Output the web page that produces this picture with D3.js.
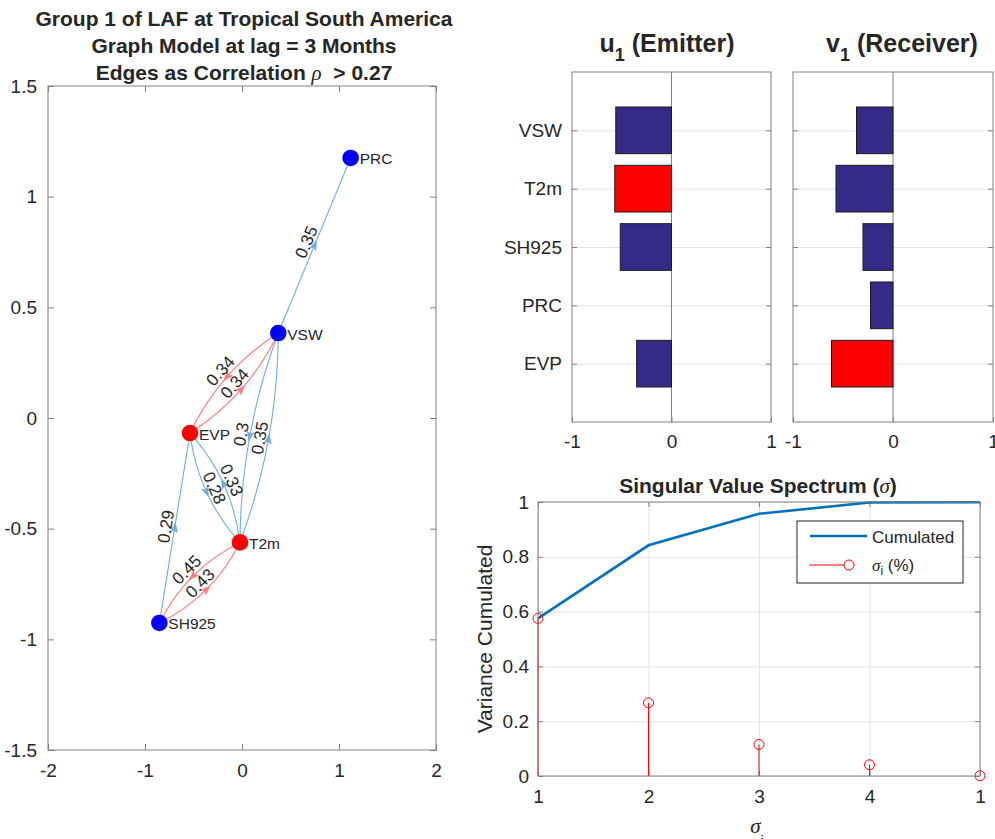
<!DOCTYPE html>
<html>
<head>
<meta charset="utf-8">
<script src="https://cdn.jsdelivr.net/npm/d3@7"></script>
<style>
body { margin: 0; background: #fff; }
text { font-family: "Liberation Sans", Arial, Helvetica, sans-serif; fill: #262626; }
</style>
</head>
<body>
<svg width="995" height="839"></svg>
<script>
// graph model nodes (layout coordinates)
var nodeNames = ["PRC", "VSW", "EVP", "T2m", "SH925"];
var nodeX = [1.12, 0.374, -0.536, -0.021, -0.852];
var nodeY = [1.175, 0.384, -0.068, -0.562, -0.926];

// directed edges, weight = correlation
var edgeSource = ["VSW", "VSW", "EVP", "VSW", "T2m", "EVP", "T2m", "SH925", "T2m", "SH925"];
var edgeTarget = ["PRC", "EVP", "VSW", "T2m", "VSW", "T2m", "EVP", "EVP", "SH925", "T2m"];
var edgeWeight = [0.35, 0.34, 0.34, 0.3, 0.35, 0.28, 0.33, 0.29, 0.45, 0.43];
var edgeRed = [0, 1, 1, 0, 0, 0, 0, 0, 1, 1];

// first singular vectors
var barCategories = ["EVP", "PRC", "SH925", "T2m", "VSW"];
var u1 = [-0.35, 0, -0.515, -0.57, -0.56];
var v1 = [-0.615, -0.225, -0.30, -0.57, -0.365];

// singular value spectrum
var sigmaIndex = [1, 2, 3, 4, 5];
var sigmaTickLabels = ["1", "2", "3", "4", "1"];
var sigmaShare = [0.575, 0.267, 0.115, 0.041, 0.001];
var cumulated = [0.575, 0.842, 0.957, 0.998, 0.999];

var svg = d3.select("svg");
var AX = "#808080", GRID = "#e3e3e3", RED = "#ff0000", BLUE = "#0000ff";
var num = function (d) { return String(d); };

function styleAxis(sel, size) {
    sel.attr("font-size", size).attr("font-family", null);
    sel.selectAll("text").attr("fill", "#262626");
    sel.selectAll("line").attr("stroke", AX);
    sel.select(".domain").remove();
}
function styleGrid(sel) {
    sel.selectAll("text").remove();
    sel.selectAll("line").attr("stroke", GRID);
    sel.select(".domain").remove();
}
function box(g, x0, y0, x1, y1) {
    g.append("rect").attr("x", x0).attr("y", y0).attr("width", x1 - x0).attr("height", y1 - y0)
        .attr("fill", "none").attr("stroke", AX);
}

// ---------------- graph panel ----------------
var gx = d3.scaleLinear().domain([-2, 2]).range([48, 436]);
var gy = d3.scaleLinear().domain([-1.5, 1.5]).range([750, 86]);
var gL = svg.append("g");
var gyTicks = [-1.5, -1, -0.5, 0, 0.5, 1, 1.5];

gL.append("g").attr("transform", "translate(0,750)")
    .call(d3.axisBottom(gx).ticks(4).tickSizeInner(-6).tickSizeOuter(0).tickPadding(14).tickFormat(num))
    .call(styleAxis, 19);
gL.append("g").attr("transform", "translate(0,86)")
    .call(d3.axisTop(gx).ticks(4).tickSizeInner(-6).tickSizeOuter(0).tickFormat(""))
    .call(styleAxis, 19);
gL.append("g").attr("transform", "translate(48,0)")
    .call(d3.axisLeft(gy).tickValues(gyTicks).tickSizeInner(-6).tickSizeOuter(0).tickPadding(11).tickFormat(num))
    .call(styleAxis, 19);
gL.append("g").attr("transform", "translate(436,0)")
    .call(d3.axisRight(gy).tickValues(gyTicks).tickSizeInner(-6).tickSizeOuter(0).tickFormat(""))
    .call(styleAxis, 19);
box(gL, 48, 86, 436, 750);

var titleL = ["Group 1 of LAF at Tropical South America", "Graph Model at lag = 3 Months"];
titleL.forEach(function (t, i) {
    svg.append("text").attr("x", 244).attr("y", 26 + i * 27).attr("text-anchor", "middle")
        .attr("font-size", 21).attr("font-weight", "bold").text(t);
});
var t3 = svg.append("text").attr("x", 244).attr("y", 80).attr("text-anchor", "middle")
    .attr("font-size", 21).attr("font-weight", "bold").style("white-space", "pre");
t3.append("tspan").text("Edges as Correlation ");
t3.append("tspan").attr("font-family", "Liberation Serif").attr("font-style", "italic")
    .attr("font-weight", "normal").text("ρ");
t3.append("tspan").text("  > 0.27");

function nodePos(name) {
    var i = nodeNames.indexOf(name);
    return [gx(nodeX[i]), gy(nodeY[i])];
}

var edgeG = gL.append("g");
edgeWeight.forEach(function (w, i) {
    var s = nodePos(edgeSource[i]), t = nodePos(edgeTarget[i]);
    var dx = t[0] - s[0], dy = t[1] - s[1], len = Math.sqrt(dx * dx + dy * dy);
    var ux = dx / len, uy = dy / len, px = -uy, py = ux;
    var both = edgeWeight.some(function (_, j) {
        return edgeSource[j] === edgeTarget[i] && edgeTarget[j] === edgeSource[i];
    });
    var bulge = both ? 9.5 : 0;
    var mx = (s[0] + t[0]) / 2 + px * bulge, my = (s[1] + t[1]) / 2 + py * bulge;
    var cx = (s[0] + t[0]) / 2 + px * bulge * 2, cy = (s[1] + t[1]) / 2 + py * bulge * 2;
    var col = edgeRed[i] ? "#ff7c7c" : "#6fade0";
    var p = d3.path();
    p.moveTo(s[0], s[1]);
    p.quadraticCurveTo(cx, cy, t[0], t[1]);
    edgeG.append("path").attr("d", p.toString()).attr("fill", "none").attr("stroke", col).attr("stroke-width", 1.1);

    var ang = Math.atan2(dy, dx) * 180 / Math.PI;
    edgeG.append("path").attr("d", "M6,0 L-5,-4 L-2.5,0 L-5,4 Z").attr("fill", col)
        .attr("transform", "translate(" + mx + "," + my + ") rotate(" + ang + ")");

    var a = ang;
    if (a > 90) a -= 180;
    if (a < -90) a += 180;
    var ar = a * Math.PI / 180;
    var lx = mx + Math.sin(ar) * 3, ly = my - Math.cos(ar) * 3;
    edgeG.append("text").attr("font-size", 17).attr("text-anchor", "middle")
        .attr("transform", "translate(" + lx + "," + ly + ") rotate(" + a + ")")
        .text(num(w));
});

// red nodes = strongest emitter / receiver
function argmaxAbs(arr) {
    return arr.reduce(function (b, v, i) { return Math.abs(v) > Math.abs(arr[b]) ? i : b; }, 0);
}
var redNodes = [barCategories[argmaxAbs(u1)], barCategories[argmaxAbs(v1)]];

gL.selectAll(".node").data(nodeNames).enter().append("circle")
    .attr("cx", function (d, i) { return gx(nodeX[i]); })
    .attr("cy", function (d, i) { return gy(nodeY[i]); })
    .attr("r", 8.3)
    .attr("fill", function (d) { return redNodes.indexOf(d) >= 0 ? RED : BLUE; });
gL.selectAll(".nlabel").data(nodeNames).enter().append("text")
    .attr("x", function (d, i) { return gx(nodeX[i]) + 9; })
    .attr("y", function (d, i) { return gy(nodeY[i]) + 1; })
    .attr("dominant-baseline", "central")
    .attr("font-size", 15.5).attr("fill", "#262626")
    .text(function (d) { return d; });

// ---------------- bar panels ----------------
var by = d3.scaleLinear().domain([0, 6]).range([422, 72]);
function barPanel(x0, x1, vals, withLabels) {
    var bx = d3.scaleLinear().domain([-1, 1]).range([x0, x1]);
    var g = svg.append("g");
    var catPos = barCategories.map(function (d, i) { return i + 1; });
    g.append("g").attr("transform", "translate(" + x0 + ",0)")
        .call(d3.axisLeft(by).tickValues(catPos).tickSize(-(x1 - x0)).tickFormat(""))
        .call(styleGrid);
    g.append("line").attr("x1", bx(0)).attr("x2", bx(0)).attr("y1", 72).attr("y2", 422).attr("stroke", AX);
    var mi = argmaxAbs(vals);
    g.selectAll(".bar").data(vals).enter().append("rect")
        .attr("x", function (d) { return bx(Math.min(0, d)); })
        .attr("y", function (d, i) { return by(i + 1 + 0.4); })
        .attr("width", function (d) { return Math.abs(bx(d) - bx(0)); })
        .attr("height", by(0) - by(0.8))
        .attr("fill", function (d, i) { return i === mi ? RED : "#352a87"; })
        .attr("stroke", "#1a1a1a").attr("stroke-width", 1)
        .style("display", function (d) { return d === 0 ? "none" : null; });
    g.append("g").attr("transform", "translate(0,422)")
        .call(d3.axisBottom(bx).tickValues([-1, 0, 1]).tickSizeInner(-5).tickSizeOuter(0).tickPadding(13).tickFormat(num))
        .call(styleAxis, 19);
    g.append("g").attr("transform", "translate(" + x0 + ",0)")
        .call(d3.axisLeft(by).tickValues(catPos).tickSizeInner(-5).tickSizeOuter(0).tickPadding(10)
            .tickFormat(function (d) { return withLabels ? barCategories[d - 1] : ""; }))
        .call(styleAxis, 19);
    g.append("g").attr("transform", "translate(" + x1 + ",0)")
        .call(d3.axisRight(by).tickValues(catPos).tickSizeInner(-5).tickSizeOuter(0).tickFormat(""))
        .call(styleAxis, 19);
    box(g, x0, 72, x1, 422);
}
barPanel(572, 771, u1, true);
barPanel(793, 993, v1, false);

function subTitle(x, y, main, sub, rest) {
    var t = svg.append("text").attr("x", x).attr("y", y).attr("text-anchor", "middle")
        .attr("font-weight", "bold").attr("font-size", 25).style("white-space", "pre");
    t.append("tspan").text(main);
    t.append("tspan").attr("dy", 9).attr("font-size", 18).text(sub);
    t.append("tspan").attr("dy", -9).text(rest);
}
subTitle(667, 52, "u", "1", " (Emitter)");
subTitle(902, 52, "v", "1", " (Receiver)");

// ---------------- singular value spectrum ----------------
var sx = d3.scaleLinear().domain([1, 5]).range([538, 980]);
var sy = d3.scaleLinear().domain([0, 1]).range([776, 502]);
var gS = svg.append("g");
var yt = [0, 0.2, 0.4, 0.6, 0.8, 1];

gS.append("g").attr("transform", "translate(0,776)")
    .call(d3.axisBottom(sx).tickValues(sigmaIndex).tickSize(-274).tickFormat(""))
    .call(styleGrid);
gS.append("g").attr("transform", "translate(538,0)")
    .call(d3.axisLeft(sy).tickValues(yt).tickSize(-442).tickFormat(""))
    .call(styleGrid);

gS.append("g").attr("transform", "translate(0,776)")
    .call(d3.axisBottom(sx).tickValues(sigmaIndex).tickSizeInner(-5).tickSizeOuter(0).tickPadding(14)
        .tickFormat(function (d, i) { return sigmaTickLabels[i]; }))
    .call(styleAxis, 19);
gS.append("g").attr("transform", "translate(0,502)")
    .call(d3.axisTop(sx).tickValues(sigmaIndex).tickSizeInner(-5).tickSizeOuter(0).tickFormat(""))
    .call(styleAxis, 19);
gS.append("g").attr("transform", "translate(538,0)")
    .call(d3.axisLeft(sy).tickValues(yt).tickSizeInner(-5).tickSizeOuter(0).tickPadding(9).tickFormat(num))
    .call(styleAxis, 19);
gS.append("g").attr("transform", "translate(980,0)")
    .call(d3.axisRight(sy).tickValues(yt).tickSizeInner(-5).tickSizeOuter(0).tickFormat(""))
    .call(styleAxis, 19);

gS.selectAll(".stem").data(sigmaShare).enter().append("line")
    .attr("x1", function (d, i) { return sx(sigmaIndex[i]); })
    .attr("x2", function (d, i) { return sx(sigmaIndex[i]); })
    .attr("y1", sy(0)).attr("y2", function (d) { return sy(d); })
    .attr("stroke", RED).attr("stroke-width", 1);

gS.append("path").datum(cumulated)
    .attr("d", d3.line().x(function (d, i) { return sx(sigmaIndex[i]); }).y(function (d) { return sy(d); }))
    .attr("fill", "none").attr("stroke", "#0072bd").attr("stroke-width", 2.6);

gS.selectAll(".mark").data(sigmaShare).enter().append("circle")
    .attr("cx", function (d, i) { return sx(sigmaIndex[i]); })
    .attr("cy", function (d) { return sy(d); })
    .attr("r", 5).attr("fill", "none").attr("stroke", RED).attr("stroke-width", 1);

box(gS, 538, 502, 980, 776);

var st = svg.append("text").attr("x", 758).attr("y", 493).attr("text-anchor", "middle")
    .attr("font-size", 21).attr("font-weight", "bold");
st.append("tspan").text("Singular Value Spectrum (");
st.append("tspan").attr("font-family", "Liberation Serif").attr("font-style", "italic").attr("font-weight", "normal").text("σ");
st.append("tspan").text(")");

svg.append("text").attr("transform", "translate(492,639) rotate(-90)").attr("text-anchor", "middle")
    .attr("font-size", 21).text("Variance Cumulated");

var xl = svg.append("text").attr("x", 757).attr("y", 833).attr("text-anchor", "middle").attr("font-size", 21);
xl.append("tspan").attr("font-family", "Liberation Serif").attr("font-style", "italic").text("σ");
xl.append("tspan").attr("dy", 13).attr("font-size", 15).text("i");

// legend
var lg = gS.append("g");
lg.append("rect").attr("x", 797).attr("y", 521).attr("width", 166).attr("height", 62)
    .attr("fill", "#fff").attr("stroke", "#262626").attr("stroke-width", 1);
lg.append("line").attr("x1", 810).attr("x2", 867).attr("y1", 536).attr("y2", 536)
    .attr("stroke", "#0072bd").attr("stroke-width", 2.6);
lg.append("text").attr("x", 872).attr("y", 537).attr("dominant-baseline", "central").attr("font-size", 17).text("Cumulated");
lg.append("line").attr("x1", 809).attr("x2", 844).attr("y1", 565).attr("y2", 565).attr("stroke", RED);
lg.append("circle").attr("cx", 849).attr("cy", 565).attr("r", 5).attr("fill", "none").attr("stroke", RED);
var l2 = lg.append("text").attr("x", 872).attr("y", 565).attr("dominant-baseline", "central").attr("font-size", 17).style("white-space", "pre");
l2.append("tspan").attr("font-family", "Liberation Serif").attr("font-style", "italic").text("σ");
l2.append("tspan").attr("dy", 6).attr("font-size", 12).text("i");
l2.append("tspan").attr("dy", -6).text(" (%)");
</script>
</body>
</html>
